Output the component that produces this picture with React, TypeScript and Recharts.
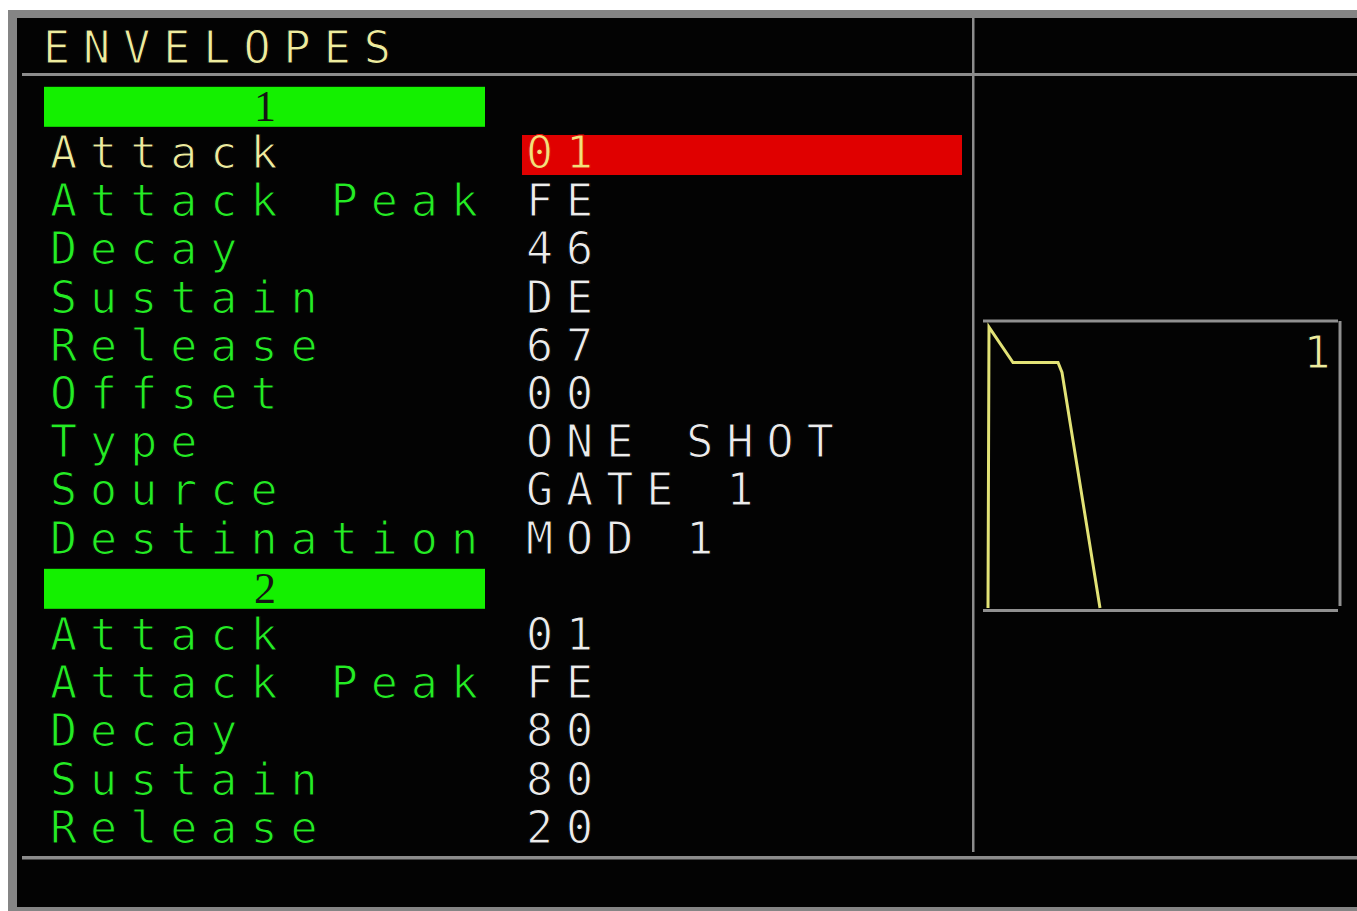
import React from "react";
import { LineChart, Line, XAxis, YAxis } from "recharts";

const title = "ENVELOPES";
const groupNames = ["1", "2"];
const rowLabels1 = ["Attack", "Attack Peak", "Decay", "Sustain", "Release", "Offset", "Type", "Source", "Destination"];
const rowValues1 = ["01", "FE", "46", "DE", "67", "00", "ONE SHOT", "GATE 1", "MOD 1"];
const rowLabels2 = ["Attack", "Attack Peak", "Decay", "Sustain", "Release"];
const rowValues2 = ["01", "FE", "80", "80", "20"];
const envTime = [0, 1, 25, 70, 74, 112];
const envLevel = [0, 254, 222, 222, 213, 0];
const envLabel = "1";

const envData = envTime.map((t, i) => ({ t, level: envLevel[i] }));

const FONT = "'DejaVu Sans Mono', monospace";
const GREEN = "#24ec24";
const WHITE = "#ececec";
const YELLOW = "#eeec9e";
const GRAY = "#8c8c8c";
const BG = "#030303";

const baseline = (i: number) => 168 + 48.2 * i;

const textStyle: React.CSSProperties = { letterSpacing: "13px" };
const SW = 1.15;
const thin = { stroke: BG, strokeWidth: SW };

export default function App() {
  const rows: { label: string; value: string; i: number; selected: boolean }[] = [];
  rowLabels1.forEach((l, k) => rows.push({ label: l, value: rowValues1[k], i: k, selected: k === 0 }));
  rowLabels2.forEach((l, k) => rows.push({ label: l, value: rowValues2[k], i: 10 + k, selected: false }));
  const bars = [-1, 9];

  return (
    <div style={{ position: "fixed", left: 0, top: 0, width: 1357, height: 911, background: "#ffffff", overflow: "hidden" }}>
      <svg width={1357} height={911} style={{ position: "absolute", left: 0, top: 0 }}>
        <rect x={8} y={10} width={1349} height={901} fill="#858585" />
        <rect x={17} y={18} width={1340} height={889} fill={BG} />
        {/* separators */}
        <rect x={22} y={73} width={1335} height={3} fill={GRAY} />
        <rect x={972} y={18} width={2.5} height={834} fill={GRAY} />
        <rect x={22} y={856} width={1335} height={3.5} fill={GRAY} />
        {/* title */}
        <text x={43} y={63} fontFamily={FONT} fontSize={45} fill={YELLOW} {...thin} style={textStyle}>{title}</text>
        {/* group bars */}
        {bars.map((b, k) => (
          <g key={"bar" + k}>
            <rect x={44} y={baseline(b) - 33} width={441} height={40} fill="#14f000" />
            <text x={265} y={baseline(b) + 1} textAnchor="middle" fontFamily="'Liberation Serif', serif" fontSize={44} fill="#151515">{groupNames[k]}</text>
          </g>
        ))}
        {/* selected value bar */}
        <rect x={522} y={baseline(0) - 33} width={440} height={40} fill="#e00000" />
        {rows.map((r, k) => (
          <g key={"row" + k}>
            <text x={50} y={baseline(r.i)} fontFamily={FONT} fontSize={45} fill={r.selected ? YELLOW : GREEN} {...thin} style={textStyle}>{r.label}</text>
            <text x={526} y={baseline(r.i)} fontFamily={FONT} fontSize={45} fill={r.selected ? "#f2df7a" : WHITE} stroke={r.selected ? "#e00000" : BG} strokeWidth={SW} style={textStyle}>{r.value}</text>
          </g>
        ))}
        {/* envelope box */}
        <rect x={983} y={319.5} width={355} height={3} fill="#909090" />
        <rect x={1338.5} y={321} width={3} height={285} fill="#909090" />
        <rect x={983} y={609} width={355} height={3} fill="#909090" />
        <text x={1317} y={368} textAnchor="middle" fontFamily={FONT} fontSize={45} fill={YELLOW} {...thin}>{envLabel}</text>
      </svg>
      <div style={{ position: "absolute", left: 978, top: 316 }}>
        <LineChart width={370} height={302} data={envData} margin={{ top: 10, right: 11, bottom: 10, left: 10 }}>
          <XAxis type="number" dataKey="t" domain={[0, 349]} hide />
          <YAxis type="number" domain={[0, 255]} hide />
          <Line type="linear" dataKey="level" stroke="#e2e276" strokeWidth={3} dot={false} isAnimationActive={false} />
        </LineChart>
      </div>
    </div>
  );
}
